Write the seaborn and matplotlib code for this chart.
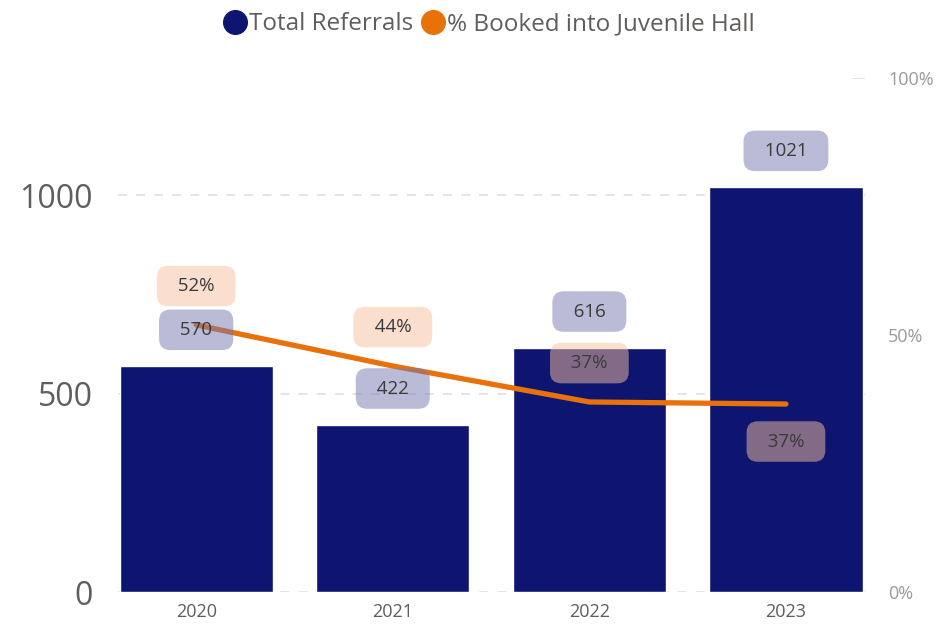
import numpy as np
import pandas as pd
import seaborn as sns
import matplotlib.pyplot as plt
from matplotlib.lines import Line2D

years = ['2020', '2021', '2022', '2023']
referrals = [570, 422, 616, 1021]
pct_booked = [0.52, 0.44, 0.37, 0.366]
pct_labels = ['52%', '44%', '37%', '37%']
pct_below = [False, False, False, True]

navy = '#0E1570'
orange = '#E8710A'

sns.set_style('white')
plt.rcParams['font.family'] = ['Open Sans', 'DejaVu Sans']

df = pd.DataFrame({'year': years, 'referrals': referrals, 'pct': pct_booked})

fig = plt.figure(figsize=(9.48, 6.36), dpi=100)
ax = fig.add_axes([0.124, 0.069, 0.788, 0.808])

sns.barplot(data=df, x='year', y='referrals', color=navy, saturation=1,
            width=0.78, ax=ax, zorder=2)
ax.set_xlim(-0.4, 3.4)
ax.set_ylim(0, 1295)
ax.set_yticks([0, 500, 1000])
ax.tick_params(axis='y', labelsize=23, labelcolor='#605E5C', length=0, pad=18)
ax.tick_params(axis='x', labelsize=13, labelcolor='#605E5C', length=0, pad=8)
ax.set_xlabel('')
ax.set_ylabel('')
ax.yaxis.grid(True, linestyle=(0, (5, 5)), color='#E3E3E3', linewidth=1.3)
ax.set_axisbelow(True)
sns.despine(ax=ax, left=True, bottom=True)

ax2 = ax.twinx()
sns.lineplot(x=np.arange(len(years)), y=df['pct'], color=orange, linewidth=3.8,
             ax=ax2, zorder=3)
ax2.set_xlim(-0.4, 3.4)
ax2.set_ylim(0, 1.0)
ax2.set_yticks([0, 0.5, 1.0])
ax2.set_yticklabels(['0%', '50%', '100%'])
ax2.tick_params(axis='y', labelsize=13, labelcolor='#9A9A9A', length=0, pad=17)
ax2.set_ylabel('')
ax2.axhline(1.0, xmin=0.985, xmax=1.0, color='#E3E3E3', linewidth=1.3)
sns.despine(ax=ax2, left=True, bottom=True, right=True)

# value labels
for i, v in enumerate(referrals):
    ax2.annotate(f'  {v}  ', xy=(i, v), xycoords=ax.transData,
                 xytext=(0, 26), textcoords='offset points',
                 ha='center', va='center', fontsize=13.5, color='#3A3A3A',
                 bbox=dict(boxstyle='round,pad=0.6,rounding_size=0.6',
                           fc='#7478B0', ec='none', alpha=0.5), zorder=5)

for i, (p, lab, below) in enumerate(zip(pct_booked, pct_labels, pct_below)):
    ax2.annotate(f'  {lab}  ', xy=(i, p), xytext=(0, -27 if below else 28),
                 textcoords='offset points', ha='center', va='center',
                 fontsize=13.5, color='#3A3A3A',
                 bbox=dict(boxstyle='round,pad=0.6,rounding_size=0.6',
                           fc='#F9C19F', ec='none', alpha=0.5), zorder=5)

handles = [Line2D([], [], marker='o', linestyle='none', markersize=17,
                  markerfacecolor=navy, markeredgecolor=navy),
           Line2D([], [], marker='o', linestyle='none', markersize=17,
                  markerfacecolor=orange, markeredgecolor=orange)]
leg = fig.legend(handles, ['Total Referrals', '% Booked into Juvenile Hall'],
                 loc='center', bbox_to_anchor=(0.515, 0.962), ncol=2,
                 frameon=False, fontsize=17.5, handletextpad=0.0,
                 columnspacing=0.3, handlelength=1.1)
for t in leg.get_texts():
    t.set_color('#605E5C')

fig.savefig('out.png', dpi=100)
